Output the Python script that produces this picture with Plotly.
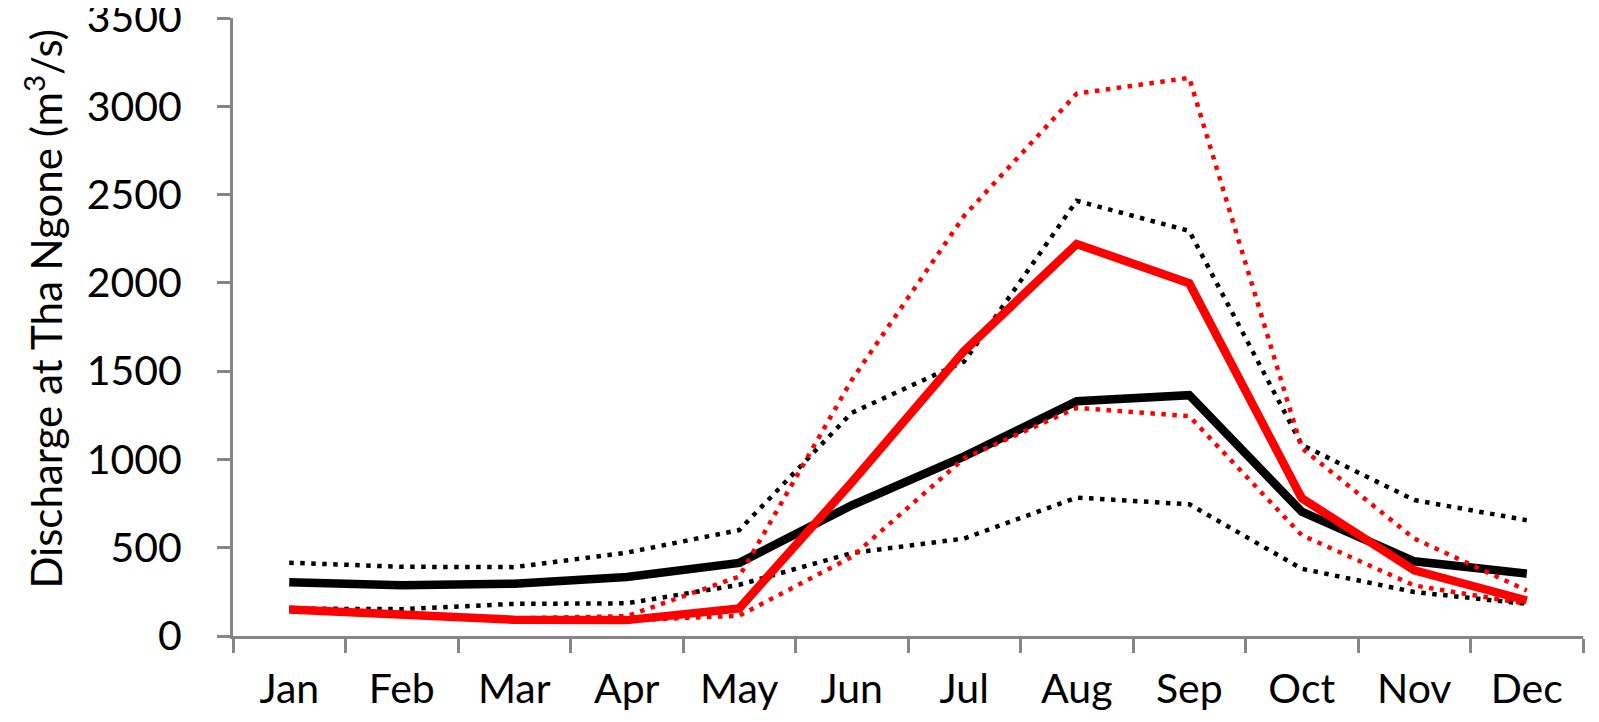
import plotly.graph_objects as go

months = ["Jan", "Feb", "Mar", "Apr", "May", "Jun", "Jul", "Aug", "Sep", "Oct", "Nov", "Dec"]

# black = observed, red = simulated (mean with upper/lower bounds)
black_mean = [305, 287, 296, 334, 414, 740, 1017, 1330, 1364, 704, 423, 353]
black_upper = [415, 392, 390, 472, 600, 1264, 1555, 2465, 2294, 1083, 770, 656]
black_lower = [155, 152, 182, 185, 290, 470, 552, 784, 746, 381, 249, 182]
red_mean = [150, 117, 92, 90, 156, 870, 1615, 2220, 1998, 780, 372, 201]
red_upper = [160, 125, 100, 112, 337, 1450, 2380, 3072, 3161, 1064, 552, 258]
red_lower = [145, 113, 90, 88, 115, 448, 1007, 1292, 1245, 571, 286, 182]

y_ticks = [0, 500, 1000, 1500, 2000, 2500, 3000, 3500]

FONT = "Lato"
AXIS_GREY = "#868686"
DOT = "4.5px,6.5px"

fig = go.Figure()

series = [
    (black_upper, "black", 4.5, DOT),
    (black_lower, "black", 4.5, DOT),
    (black_mean, "black", 8.5, "solid"),
    (red_upper, "#ff0000", 4.5, DOT),
    (red_lower, "#ff0000", 4.5, DOT),
    (red_mean, "#ff0000", 8.5, "solid"),
]
for vals, col, w, dash in series:
    fig.add_trace(go.Scatter(x=months, y=vals, mode="lines",
                             line=dict(color=col, width=w, dash=dash),
                             showlegend=False, hoverinfo="skip"))

fig.add_annotation(text="Discharge at Tha Ngone (m<sup>3</sup>/s)",
                   xref="paper", yref="paper", x=-0.14, y=0.53,
                   xanchor="center", yanchor="middle", textangle=-90,
                   showarrow=False, font=dict(family=FONT, size=42, color="black"))

fig.update_xaxes(type="category", range=[-0.5, 11.5], tickson="boundaries",
                 ticks="outside", ticklen=14, tickwidth=2.5, tickcolor=AXIS_GREY,
                 showline=True, linecolor=AXIS_GREY, linewidth=3, showgrid=False,
                 zeroline=False, ticklabelstandoff=15,
                 tickfont=dict(family=FONT, size=41, color="black"))
fig.update_yaxes(range=[0, 3500], tickvals=y_ticks, ticks="outside", ticklen=13,
                 tickwidth=2.5, tickcolor=AXIS_GREY, showline=True, linecolor=AXIS_GREY,
                 linewidth=3, showgrid=False, zeroline=False, ticklabelstandoff=27,
                 ticklabeloverflow="allow",
                 tickfont=dict(family=FONT, size=41, color="black"))

fig.update_layout(width=1599, height=722, plot_bgcolor="white", paper_bgcolor="white",
                  margin=dict(l=225, r=24, t=10, b=94, autoexpand=False))

fig.write_html("out.html")
